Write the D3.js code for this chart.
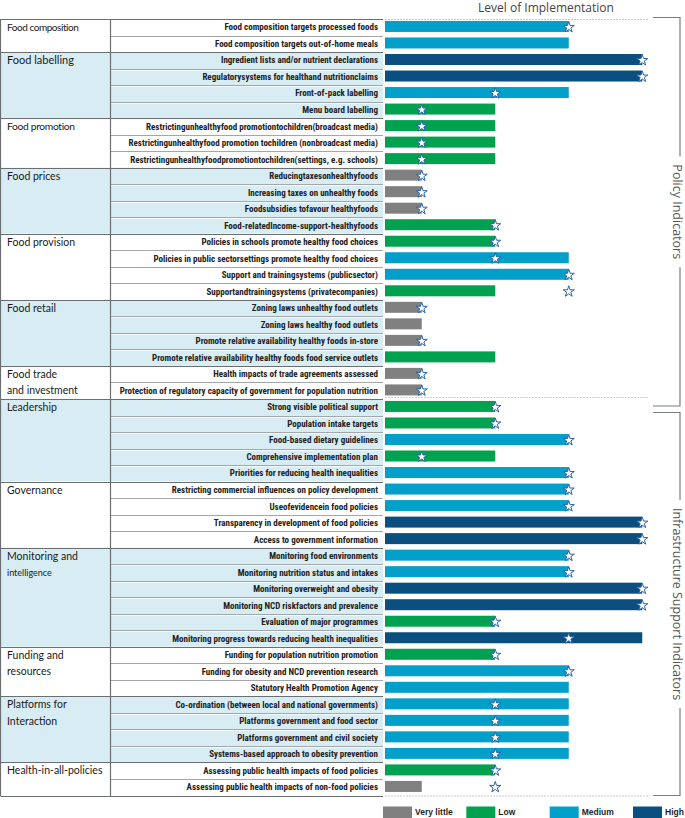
<!DOCTYPE html>
<html><head><meta charset="utf-8">
<script src="https://cdn.jsdelivr.net/npm/d3@7"></script>
<style>
html,body{margin:0;padding:0;background:#fff;}
svg{display:block;}
</style></head>
<body><svg id="c" width="685" height="818"></svg>
<script>
const domains = ["Food composition","Food labelling","Food promotion","Food prices","Food provision","Food retail","Food trade\nand investment","Leadership","Governance","Monitoring and\nintelligence","Funding and\nresources","Platforms for\nInteraction","Health-in-all-policies"];
const domainCounts = [2,4,3,4,4,4,2,5,4,6,3,4,2];
const indicators = [
"Food composition targets processed foods",
"Food composition targets out-of-home meals",
"Ingredient lists and/or nutrient declarations",
"Regulatorysystems for healthand nutritionclaims",
"Front-of-pack labelling",
"Menu board labelling",
"Restrictingunhealthyfood promotiontochildren(broadcast media)",
"Restrictingunhealthyfood promotion tochildren (nonbroadcast media)",
"Restrictingunhealthyfoodpromotiontochildren(settings, e.g. schools)",
"Reducingtaxesonhealthyfoods",
"Increasing taxes on unhealthy foods",
"Foodsubsidies tofavour healthyfoods",
"Food-relatedIncome-support-healthyfoods",
"Policies in schools promote healthy food choices",
"Policies in public sectorsettings promote healthy food choices",
"Support and trainingsystems (publicsector)",
"Supportandtrainingsystems (privatecompanies)",
"Zoning laws unhealthy food outlets",
"Zoning laws healthy food outlets",
"Promote relative availability healthy foods in-store",
"Promote relative availability healthy foods food service outlets",
"Health impacts of trade agreements assessed",
"Protection of regulatory capacity of government for population nutrition",
"Strong visible political support",
"Population intake targets",
"Food-based dietary guidelines",
"Comprehensive implementation plan",
"Priorities for reducing health inequalities",
"Restricting commercial influences on policy development",
"Useofevidencein food policies",
"Transparency in development of food policies",
"Access to government information",
"Monitoring food environments",
"Monitoring nutrition status and intakes",
"Monitoring overweight and obesity",
"Monitoring NCD riskfactors and prevalence",
"Evaluation of major programmes",
"Monitoring progress towards reducing health inequalities",
"Funding for population nutrition promotion",
"Funding for obesity and NCD prevention research",
"Statutory Health Promotion Agency",
"Co-ordination (between local and national governments)",
"Platforms government and food sector",
"Platforms government and civil society",
"Systems-based approach to obesity prevention",
"Assessing public health impacts of food policies",
"Assessing public health impacts of non-food policies"
];
// 1 = Very little, 2 = Low, 3 = Medium, 4 = High
const levels = [3,3,4,4,3,2, 2,2,2, 1,1,1,2, 2,3,3,2, 1,1,1,2, 1,1,
  2,2,3,2,3, 3,3,4,4, 3,3,4,4,2,4, 2,3,3, 3,3,3,3, 2,1];
// benchmark star level, 0 = none
const benchmarks = [3,0,4,4,2,1, 1,1,1, 1,1,1,2, 2,2,3,3, 1,0,1,0, 1,1,
  2,2,3,1,3, 3,3,4,4, 3,3,4,4,2,3, 2,3,0, 2,2,2,2, 2,2];
const levelNames = ["Very little","Low","Medium","High"];
const levelColors = ["#808080","#00a24f","#019fc9","#0b4f80"];
const sections = ["Policy Indicators","Infrastructure Support Indicators"];
const sectionRows = [23,24];
const title = "Level of Implementation";
const domainFontSizes = [10,11,10.3,10.5,10.5,10.5,10.5,10.5,10.5,10.5,10.5,10.5,10.5];
const domainSpacing = [-0.45,0,-0.35,0,0,0,0,0,0,0,0,0,0];

const svg = d3.select("#c");
const topY = 19, bottomY = 795.5;
const nRows = indicators.length;
const y = d3.scaleBand().domain(d3.range(nRows)).range([topY,bottomY]).paddingInner(0);
const x = d3.scaleLinear().domain([0,4]).range([385,679]);
const color = d3.scaleOrdinal().domain([1,2,3,4]).range(levelColors);
const tableLeft = 0.5, domRight = 110.5, tableRight = 383;
const rowY = r => r >= nRows ? bottomY : y(r);

// group starts
const starts = [];
let acc = 0;
domainCounts.forEach(c=>{starts.push(acc); acc+=c;});
const groups = domains.map((d,i)=>({name:d, start:starts[i], count:domainCounts[i], i}));

// backgrounds
svg.append("g").selectAll("rect").data(groups).join("rect")
  .attr("x",tableLeft).attr("width",tableRight-tableLeft)
  .attr("y",g=>y(g.start)).attr("height",g=>y.step()*g.count)
  .attr("fill",g=>g.i%2===1?"#d8ecf3":"#ffffff");

// row separator lines (indicator column)
const rowLines = d3.range(1,nRows).filter(r=>!starts.includes(r));
const groupOf = r => groups.find(g=>r>=g.start && r<g.start+g.count);
svg.append("g").selectAll("line").data(rowLines).join("line")
  .attr("x1",domRight).attr("x2",tableRight)
  .attr("y1",r=>Math.round(y(r))+0.5).attr("y2",r=>Math.round(y(r))+0.5)
  .attr("stroke","#a3a7a9").attr("stroke-width",1);
svg.append("g").selectAll("line").data(rowLines.filter(r=>groupOf(r).i%2===1)).join("line")
  .attr("x1",domRight).attr("x2",tableRight)
  .attr("y1",r=>Math.round(y(r))+1.5).attr("y2",r=>Math.round(y(r))+1.5)
  .attr("stroke","#f4fafc").attr("stroke-width",1);

// group lines
svg.append("g").selectAll("line").data(starts.concat([nRows])).join("line")
  .attr("x1",tableLeft).attr("x2",tableRight)
  .attr("y1",r=>Math.round(rowY(r))+0.5).attr("y2",r=>Math.round(rowY(r))+0.5)
  .attr("stroke","#6b6f72").attr("stroke-width",1.2);
// vertical lines
[tableLeft, domRight].forEach(vx=>{
  svg.append("line").attr("x1",vx).attr("x2",vx).attr("y1",topY).attr("y2",bottomY+0.5)
    .attr("stroke","#6b6f72").attr("stroke-width",1.2);
});

// dotted lines in bar area
const sepRows = [0, sectionRows[0], nRows];
svg.append("g").selectAll("line").data(sepRows).join("line")
  .attr("x1",385).attr("x2",648)
  .attr("y1",r=>rowY(r)+(r===sectionRows[0]?-1.5:0.5))
  .attr("y2",r=>rowY(r)+(r===sectionRows[0]?-1.5:0.5))
  .attr("stroke",r=>r===sectionRows[0]?"#d9c9e6":"#c4c8cc").attr("stroke-width",1)
  .attr("stroke-dasharray","2,1");

// domain labels
const dl = svg.append("g").attr("font-family","Lato, 'Open Sans', sans-serif").attr("fill","#1a1a1a");
groups.forEach(g=>{
  g.name.split("\n").forEach((line,k)=>{
    dl.append("text").attr("x",7).attr("y",y(g.start+k)+y.bandwidth()/2)
      .attr("dy","0.35em").attr("font-size", k>0&&g.name.startsWith("Monitoring")?9:domainFontSizes[g.i])
      .attr("letter-spacing", domainSpacing[g.i])
      .text(line);
  });
});

// indicator labels
const il = svg.append("g").attr("font-family","'Liberation Sans Narrow','Arial Narrow','Roboto Condensed',sans-serif")
  .attr("font-size",9).attr("font-weight",700).attr("fill","#222").attr("text-anchor","end");
il.selectAll("text").data(indicators).join("text")
  .attr("x",378).attr("y",(d,i)=>y(i)+y.bandwidth()/2).attr("dy","0.35em")
  .text(d=>d);

// bars
const bh = 11;
svg.append("g").selectAll("rect").data(levels).join("rect")
  .attr("x",x(0)).attr("y",(d,i)=>y(i)+(y.bandwidth()-bh)/2-0.8)
  .attr("width",d=>x(d-0.5)-x(0)).attr("height",bh)
  .attr("fill",d=>color(d));

// stars
const star = d3.symbol().type(d3.symbolStar).size(38);
svg.append("g").selectAll("path").data(benchmarks.map((b,i)=>({b,i})).filter(d=>d.b>0)).join("path")
  .attr("d",star)
  .attr("transform",d=>`translate(${x(d.b-0.5)},${y(d.i)+y.bandwidth()/2})`)
  .attr("fill","#ffffff").attr("stroke","#2a63a6").attr("stroke-width",1).attr("stroke-linejoin","round");

// title
svg.append("text").attr("x",546).attr("y",12).attr("text-anchor","middle")
  .attr("font-family","'Open Sans', Lato, sans-serif").attr("font-size",12).attr("fill","#444")
  .text(title);

// brackets
const bx = 680, bl = 653;
const secs = [{name:sections[0], y0:17.5, y1:406},{name:sections[1], y0:412.5, y1:795.5}];
secs.forEach(s=>{
  svg.append("path").attr("d",`M${bl},${s.y0}H${bx}V${s.y1}H${bl}`)
    .attr("fill","none").attr("stroke","#7a7d80").attr("stroke-width",1.2);
  const cy = (s.y0+s.y1)/2;
  const t = svg.append("text").attr("transform",`translate(${bx-3},${cy}) rotate(90)`)
    .attr("text-anchor","middle").attr("dy","0.35em")
    .attr("font-family","'Open Sans', Lato, sans-serif").attr("font-size",12.5).attr("fill","#555")
    .text(s.name);
  const w = t.node().getComputedTextLength();
  svg.insert("rect", () => t.node()).attr("x",bx-6).attr("width",12).attr("y",cy-w/2-8).attr("height",w+16).attr("fill","#fff");
});

// legend
const lx = d3.scaleLinear().domain([0,3]).range([383,633]);
const lg = svg.append("g").selectAll("g").data(levelNames).join("g")
  .attr("transform",(d,i)=>`translate(${lx(i)},806.5)`);
lg.append("rect").attr("width",29).attr("height",11.5).attr("fill",(d,i)=>levelColors[i]);
lg.append("text").attr("x",32).attr("y",6).attr("dy","0.35em")
  .attr("font-family","'Liberation Sans Narrow','Arial Narrow',sans-serif").attr("font-size",8.5).attr("font-weight",700).attr("fill","#1f1f1f")
  .text(d=>d);
</script>
</body></html>
